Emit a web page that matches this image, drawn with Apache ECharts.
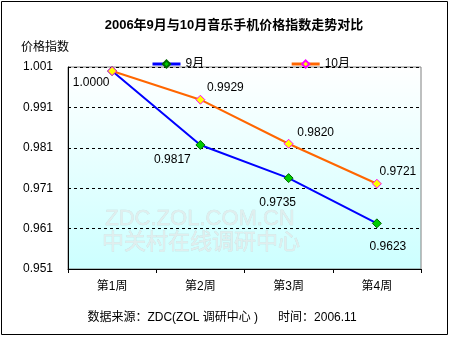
<!DOCTYPE html>
<html><head><meta charset="utf-8">
<script src="https://cdn.jsdelivr.net/npm/echarts@6/dist/echarts.min.js"></script>
<style>html,body{margin:0;padding:0;background:#fff}#c{width:450px;height:337px}</style>
</head><body><div id="c"></div>
<script>
var categories = ['第1周', '第2周', '第3周', '第4周'];
var sepValues = [1.0000, 0.9817, 0.9735, 0.9623];
var octValues = [1.0000, 0.9929, 0.9820, 0.9721];
var seriesNames = ['9月', '10月'];
var yTicks = { min: 0.951, max: 1.001, step: 0.01 };
var titleText = '2006年9月与10月音乐手机价格指数走势对比';
var yAxisName = '价格指数';
var footerText = '数据来源：ZDC(ZOL 调研中心 )      时间：2006.11';

var sepLabelOffsets = [[-21, 12], [-28, 15], [-11, 25], [11, 23]];
var octLabelOffsets = [null, [25, -12], [27, -11], [21, -12]];
var cjk = '"Liberation Sans", Arial, "Noto Sans CJK SC", sans-serif';

function buildData(vals, offs) {
  return vals.map(function (v, i) {
    var o = offs[i];
    if (!o) return { value: v, label: { show: false } };
    return { value: v, label: { show: true, offset: o } };
  });
}

var chart = echarts.init(document.getElementById('c'), null, { renderer: 'canvas' });
chart.setOption({
  animation: false,
  backgroundColor: '#ffffff',
  title: {
    text: titleText, left: 229, top: 14, textAlign: 'center',
    textStyle: { fontSize: 13, fontWeight: 'bold', color: '#000', fontFamily: cjk }
  },
  legend: {
    left: 146, top: 53, itemGap: 86, itemWidth: 28, itemHeight: 9,
    lineStyle: { width: 3 },
    textStyle: { fontSize: 12, color: '#000', fontFamily: cjk },
    data: seriesNames
  },
  grid: {
    left: 68, right: 29, top: 67, bottom: 68, show: true,
    borderColor: '#808080', borderWidth: 1,
    backgroundColor: { type: 'linear', x: 0, y: 0, x2: 0, y2: 1,
      colorStops: [{ offset: 0, color: '#ffffff' }, { offset: 1, color: '#ccffff' }] }
  },
  xAxis: {
    type: 'category', data: categories, boundaryGap: true,
    axisLine: { lineStyle: { color: '#000', width: 1 } },
    axisTick: { show: true, length: 4, inside: false, lineStyle: { color: '#000' } },
    axisLabel: { color: '#000', fontSize: 12, margin: 12, fontFamily: cjk },
    splitLine: { show: false }
  },
  yAxis: {
    type: 'value', min: yTicks.min, max: yTicks.max, interval: yTicks.step,
    name: yAxisName, nameLocation: 'end', nameGap: 13,
    nameTextStyle: { color: '#000', fontSize: 12, align: 'right', fontFamily: cjk, padding: [0, -1, 0, 0] },
    axisLine: { show: true, lineStyle: { color: '#000', width: 1 } },
    axisTick: { show: false },
    axisLabel: { color: '#000', fontSize: 12, margin: 15, fontFamily: '"Liberation Sans", Arial, sans-serif',
      formatter: function (v) { return v.toFixed(3); } },
    splitLine: { show: true, lineStyle: { color: '#000', type: [3, 3], width: 1 } }
  },
  graphic: [
    { type: 'rect', shape: { x: 1.5, y: 1.5, width: 446, height: 333 }, style: { fill: 'none', stroke: '#000', lineWidth: 1 }, z: 100 },
    { type: 'text', x: 200, y: 219, z: 1, style: { text: 'ZDC.ZOL.COM.CN', fill: '#e0eeee', stroke: '#c8dcdc', lineWidth: 0.5, font: '22px "Liberation Sans", Arial', textAlign: 'center', textVerticalAlign: 'middle' } },
    { type: 'text', x: 201, y: 241, z: 1, style: { text: '中关村在线调研中心', fill: '#e0eeee', stroke: '#c8dcdc', lineWidth: 0.5, font: '22px "Noto Sans CJK SC"', textAlign: 'center', textVerticalAlign: 'middle' } },
    { type: 'text', x: 222, y: 318, style: { text: footerText, fill: '#000', font: '12px ' + cjk, textAlign: 'center', textVerticalAlign: 'middle' } }
  ],
  series: [
    {
      name: seriesNames[0], type: 'line', data: buildData(sepValues, sepLabelOffsets),
      symbol: 'diamond', symbolSize: 9, showAllSymbol: true,
      lineStyle: { color: '#0000ff', width: 2 },
      itemStyle: { color: '#00cc00', borderColor: '#006600', borderWidth: 1 },
      label: { position: 'inside', color: '#000', fontSize: 12, fontFamily: '"Liberation Sans", Arial, sans-serif',
        formatter: function (p) { return p.value.toFixed(4); } },
      z: 3
    },
    {
      name: seriesNames[1], type: 'line', data: buildData(octValues, octLabelOffsets),
      symbol: 'diamond', symbolSize: 9, showAllSymbol: true,
      lineStyle: { color: '#ff6600', width: 2 },
      itemStyle: { color: '#ffff00', borderColor: '#ff00ff', borderWidth: 1 },
      label: { position: 'inside', color: '#000', fontSize: 12, fontFamily: '"Liberation Sans", Arial, sans-serif',
        formatter: function (p) { return p.value.toFixed(4); } },
      z: 4
    }
  ]
});
</script></body></html>
